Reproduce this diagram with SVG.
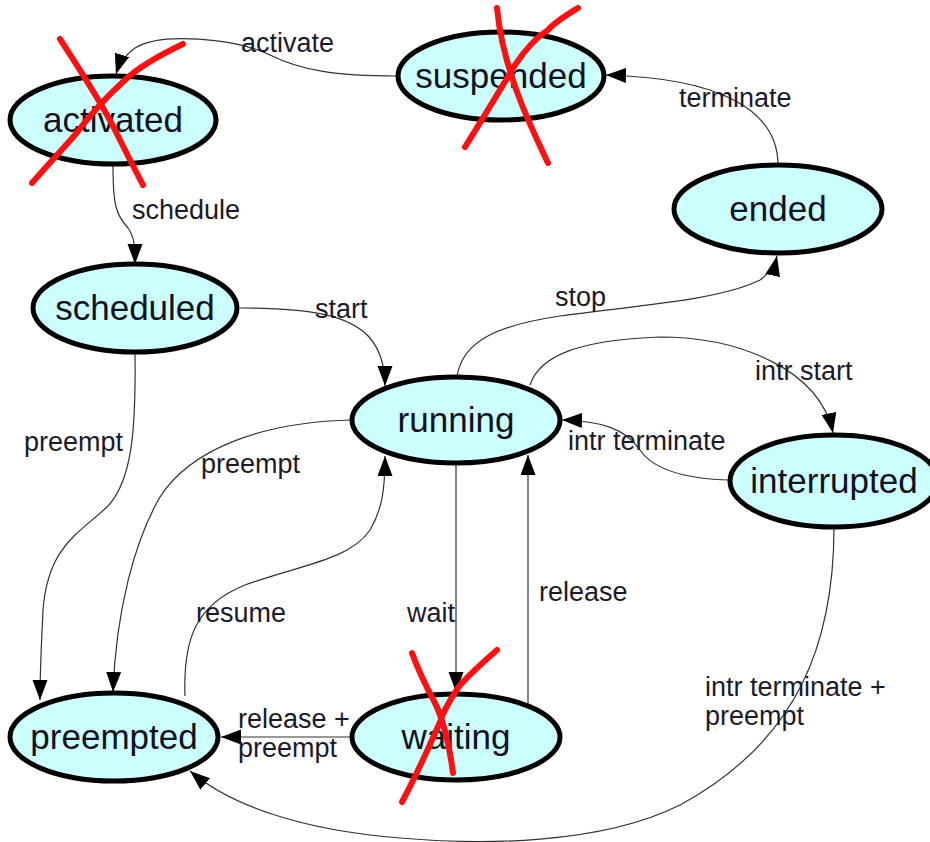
<svg xmlns="http://www.w3.org/2000/svg" width="930" height="842" viewBox="0 0 930 842">
<style>
.node ellipse{fill:#ccffff;stroke:#000;stroke-width:5}
.node text{font-family:"Liberation Sans",Arial,sans-serif;font-size:35px;fill:#111122;text-anchor:middle}
.edge{fill:none;stroke:#333;stroke-width:1.2}
.lbl{font-family:"Liberation Sans",Arial,sans-serif;font-size:27px;fill:#1a1a2a}
.x{fill:none;stroke:#ff1010;stroke-width:6;stroke-linecap:round;stroke-linejoin:round}
</style>
<defs>
<marker id="arr" markerUnits="userSpaceOnUse" markerWidth="22" markerHeight="16" refX="20" refY="7.5" orient="auto">
<path d="M0,0 L20,7.5 L0,15 z" fill="#000"/>
</marker>
</defs>
<rect width="930" height="842" fill="#fff"/>
<g id="connectors">
<path class="edge" marker-end="url(#arr)" d="M397,76 C335,76 300,70 270,55 C235,38 160,32 135,48 Q121,58 116,74"/>
<path class="edge" marker-end="url(#arr)" d="M113,166 C113,205 116,215 128,228 C134,236 135,245 135,264"/>
<path class="edge" marker-end="url(#arr)" d="M778,165 C778,110 720,78 606,75"/>
<path class="edge" marker-end="url(#arr)" d="M240,308 C310,308 350,315 370,338 C380,350 385,365 385,386"/>
<path class="edge" marker-end="url(#arr)" d="M135,353 C136,430 132,480 108,506 C80,533 48,545 43,610 C41,650 40,680 40,700"/>
<path class="edge" marker-end="url(#arr)" d="M352,420 C260,422 190,450 160,497 C135,540 116,610 113,692"/>
<path class="edge" marker-end="url(#arr)" d="M185,696 C183,640 195,605 245,585 C300,565 350,560 370,530 C382,510 385,490 385,456"/>
<path class="edge" marker-end="url(#arr)" d="M456,463 L456,692"/>
<path class="edge" marker-end="url(#arr)" d="M528,704 L528,455"/>
<path class="edge" marker-end="url(#arr)" d="M352,737 L221,737"/>
<path class="edge" marker-end="url(#arr)" d="M457,377 C462,340 500,325 560,316 C640,305 720,300 760,280 C770,273 775,265 777,256"/>
<path class="edge" marker-end="url(#arr)" d="M530,385 C540,355 580,340 660,337 C740,337 820,370 833,433"/>
<path class="edge" marker-end="url(#arr)" d="M730,480 C690,479 655,472 640,450 C625,428 600,421 562,420"/>
<path class="edge" marker-end="url(#arr)" d="M834,527 C834,640 800,740 680,805 C600,845 480,845 400,838 C300,830 230,805 190,771"/>
<text class="lbl" x="241" y="52">activate</text>
<text class="lbl" x="132" y="219">schedule</text>
<text class="lbl" x="679" y="107">terminate</text>
<text class="lbl" x="315" y="318">start</text>
<text class="lbl" x="555" y="306">stop</text>
<text class="lbl" x="755" y="380">intr start</text>
<text class="lbl" x="568" y="450">intr terminate</text>
<text class="lbl" x="24" y="451">preempt</text>
<text class="lbl" x="201" y="473">preempt</text>
<text class="lbl" x="196" y="622">resume</text>
<text class="lbl" x="407" y="622">wait</text>
<text class="lbl" x="539" y="601">release</text>
<text class="lbl" x="238" y="728">release +</text>
<text class="lbl" x="238" y="757">preempt</text>
<text class="lbl" x="705" y="696">intr terminate +</text>
<text class="lbl" x="705" y="725">preempt</text>
</g>
<g id="activated" class="node"><ellipse cx="113" cy="120" rx="103" ry="44"/><text x="113" y="132">activated</text></g>
<g id="suspended" class="node"><ellipse cx="501" cy="76" rx="103" ry="44"/><text x="501" y="88">suspended</text></g>
<g id="ended" class="node"><ellipse cx="778" cy="209" rx="104" ry="44"/><text x="778" y="221">ended</text></g>
<g id="scheduled" class="node"><ellipse cx="135" cy="308" rx="102" ry="44"/><text x="135" y="320">scheduled</text></g>
<g id="running" class="node"><ellipse cx="456" cy="420" rx="104" ry="43"/><text x="456" y="432">running</text></g>
<g id="interrupted" class="node"><ellipse cx="834" cy="481" rx="104" ry="46"/><text x="834" y="493">interrupted</text></g>
<g id="preempted" class="node"><ellipse cx="114" cy="737" rx="104" ry="44"/><text x="114" y="749">preempted</text></g>
<g id="waiting" class="node"><ellipse cx="456" cy="737" rx="104" ry="43"/><text x="456" y="749">waiting</text></g>
<g id="crosses">
<path class="x" d="M60,39 C80,70 100,100 115,130 C125,150 135,170 143,185"/>
<path class="x" d="M183,44 C160,55 140,66 125,80 C105,98 90,115 75,135 C60,152 45,168 32,183"/>
<path class="x" d="M497,8 C500,40 510,75 522,105 C532,130 542,150 548,163"/>
<path class="x" d="M578,8 C565,16 555,22 548,30 C535,38 525,50 515,65 C500,90 485,115 465,147"/>
<path class="x" d="M412,653 C418,670 428,690 436,705 C445,725 450,750 453,773"/>
<path class="x" d="M497,650 C480,665 465,678 458,688 C450,700 443,712 440,722 C430,745 418,772 402,802"/>
</g>
</svg>
